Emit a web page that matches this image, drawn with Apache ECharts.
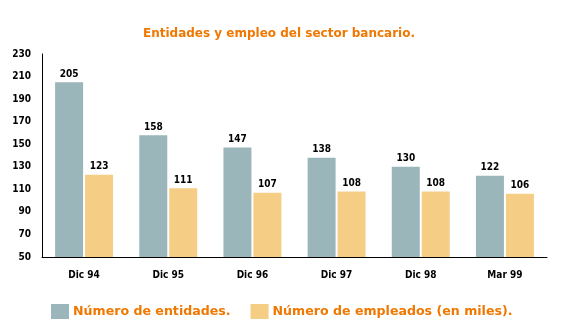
<!DOCTYPE html>
<html>
<head>
<meta charset="utf-8">
<script src="https://cdn.jsdelivr.net/npm/echarts@6/dist/echarts.min.js"></script>
<style>html,body{margin:0;padding:0;background:#fff;}#c{width:561px;height:334px;}</style>
</head>
<body>
<div id="c"></div>
<script>
const categories = ['Dic 94', 'Dic 95', 'Dic 96', 'Dic 97', 'Dic 98', 'Mar 99'];
const entidades = [205, 158, 147, 138, 130, 122];
const empleados = [123, 111, 107, 108, 108, 106];
const seriesNames = ['Número de entidades.', 'Número de empleados (en miles).'];
const titleText = 'Entidades y empleo del sector bancario.';

const chart = echarts.init(document.getElementById('c'));
const labelStyle = {
  show: true, position: 'top', color: '#000', fontWeight: 'bold',
  fontFamily: 'DejaVu Sans Condensed', fontSize: 10, distance: 3
};
chart.setOption({
  animation: false,
  backgroundColor: '#fff',
  title: {
    text: titleText, left: 274, top: 23, textAlign: 'center',
    textStyle: { color: '#f07800', fontFamily: 'DejaVu Sans', fontWeight: 'bold', fontSize: 12 }
  },
  legend: {
    data: seriesNames, left: 46, top: 299, width: 515, itemWidth: 18, itemHeight: 15, itemGap: 20,
    icon: 'rect',
    textStyle: { color: '#f07800', fontFamily: 'DejaVu Sans', fontWeight: 'bold', fontSize: 12.6, padding: [0,0,0,-1] }
  },
  grid: { left: 42, right: 14, top: 54, bottom: 77 },
  xAxis: {
    type: 'category', data: categories,
    axisLine: { lineStyle: { color: '#000', width: 1 } },
    axisTick: { show: false },
    axisLabel: { color: '#000', fontWeight: 'bold', fontFamily: 'DejaVu Sans Condensed', fontSize: 10, margin: 13 }
  },
  yAxis: {
    type: 'value', min: 50, max: 230, interval: 20,
    axisLine: { show: true, lineStyle: { color: '#000', width: 1 } },
    axisTick: { show: false },
    splitLine: { show: false },
    axisLabel: { color: '#000', fontWeight: 'bold', fontFamily: 'DejaVu Sans Condensed', fontSize: 10, margin: 11 }
  },
  series: [
    { name: seriesNames[0], type: 'bar', data: entidades, barWidth: 28, barGap: '7%',
      itemStyle: { color: '#9bb6bb' }, label: labelStyle },
    { name: seriesNames[1], type: 'bar', data: empleados, barWidth: 28,
      itemStyle: { color: '#f5cd85' }, label: labelStyle }
  ]
});
</script>
</body>
</html>
